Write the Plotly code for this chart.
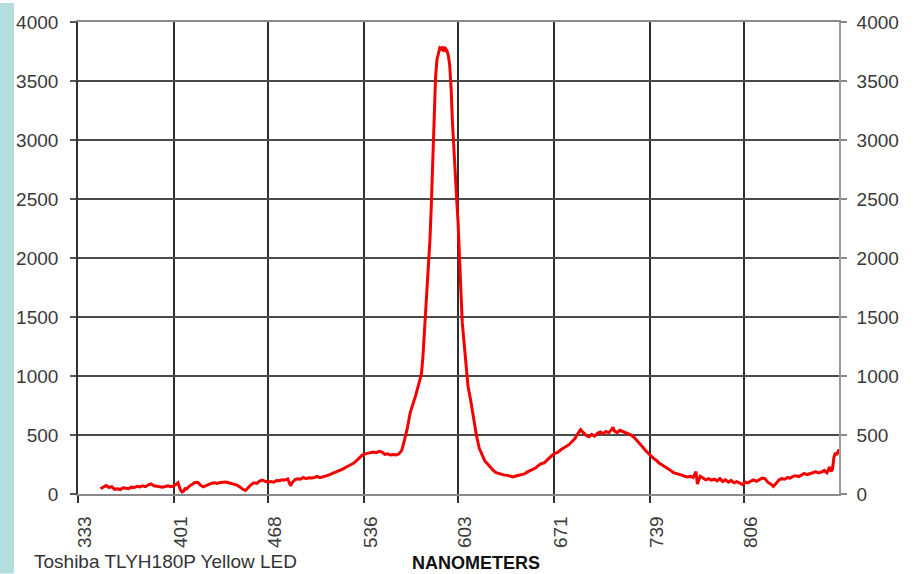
import plotly.graph_objects as go

# Emission spectrum of a Toshiba TLYH180P yellow LED
wavelength_nm = [
    349, 351, 353, 355, 357, 359, 361, 363, 365, 367, 369, 371, 373, 375, 377, 379,
    381, 383, 385, 387, 389, 391, 393, 395, 397, 399, 401, 403, 404, 405, 406, 407,
    408, 409, 410, 412, 414, 416, 418, 420, 422, 424, 426, 428, 430, 432, 434, 436,
    438, 440, 442, 444, 446, 448, 450, 452, 454, 456, 458, 460, 462, 464, 466, 468,
    470, 472, 474, 476, 478, 480, 482, 484, 485, 487, 489, 491, 493, 495, 497, 499,
    501, 503, 505, 507, 509, 511, 513, 515, 517, 519, 521, 523, 525, 527, 529, 531,
    533, 535, 537, 539, 541, 543, 545, 547, 549, 551, 553, 555, 557, 559, 561, 563,
    565, 567, 569, 571, 573, 575, 577, 578, 579, 580, 581, 582, 583, 584, 585, 586,
    587, 588, 589, 590, 591, 592, 593, 594, 595, 596, 597, 598, 599, 600, 601, 602,
    603, 604, 605, 606, 607, 608, 609, 610, 612, 614, 616, 618, 620, 622, 624, 626,
    628, 630, 632, 634, 636, 638, 640, 642, 644, 646, 648, 650, 652, 654, 656, 658,
    660, 662, 664, 666, 668, 670, 672, 674, 676, 678, 680, 682, 684, 686, 688, 690,
    692, 694, 696, 698, 700, 702, 704, 706, 708, 710, 712, 713, 714, 716, 718, 720,
    722, 724, 726, 728, 730, 732, 734, 736, 738, 740, 742, 744, 746, 748, 750, 752,
    754, 756, 758, 760, 762, 764, 766, 768, 770, 772, 773, 775, 777, 779, 781, 783,
    785, 787, 789, 791, 793, 795, 797, 799, 801, 803, 805, 807, 809, 811, 813, 815,
    817, 819, 821, 823, 825, 827, 829, 831, 833, 835, 837, 839, 841, 843, 845, 847,
    849, 851, 853, 855, 857, 859, 861, 863, 865, 867, 868, 869, 870, 871, 872, 873,
    873.6,
]

intensity = [
    45, 60, 72, 55, 62, 40, 45, 38, 52, 48, 45, 58, 55, 65, 60, 70,
    62, 78, 85, 70, 66, 60, 58, 64, 70, 62, 68, 85, 95, 60, 30, 18,
    25, 45, 42, 65, 85, 98, 100, 75, 60, 72, 80, 92, 95, 90, 98, 100,
    102, 95, 88, 80, 75, 60, 40, 30, 55, 80, 95, 90, 110, 118, 108, 100,
    105, 100, 115, 112, 120, 118, 128, 70, 95, 120, 128, 125, 140, 130, 138, 135,
    140, 150, 138, 145, 148, 160, 170, 180, 188, 200, 210, 225, 240, 250, 262, 285,
    310, 330, 340, 345, 352, 355, 350, 362, 355, 335, 340, 330, 335, 330, 340, 370,
    460, 560, 690, 760, 840, 930, 1020, 1160, 1360, 1500, 1680, 1900, 2150, 2450, 2800, 3200,
    3530, 3680, 3740, 3780, 3770, 3790, 3750, 3775, 3760, 3720, 3640, 3450, 3150, 2900, 2720, 2500,
    2300, 1950, 1720, 1450, 1300, 1150, 1030, 920, 790, 640, 500, 390, 330, 280, 255, 225,
    200, 180, 172, 165, 160, 158, 150, 145, 152, 158, 165, 170, 185, 195, 205, 220,
    240, 258, 262, 285, 310, 330, 345, 355, 375, 390, 405, 420, 445, 470, 510, 545,
    520, 495, 485, 505, 490, 515, 525, 510, 530, 520, 545, 565, 535, 520, 540, 530,
    525, 515, 500, 480, 455, 430, 400, 370, 345, 320, 300, 285, 260, 245, 230, 220,
    200, 180, 175, 170, 160, 150, 145, 150, 140, 190, 85, 150, 135, 120, 130, 118,
    125, 110, 130, 105, 120, 100, 115, 95, 105, 90, 80, 100, 95, 110, 120, 108,
    125, 135, 130, 100, 85, 65, 90, 120, 130, 125, 140, 135, 150, 155, 148, 160,
    175, 165, 170, 180, 190, 178, 185, 200, 180, 230, 190, 210, 310, 350, 330, 370,
    380,
]

x_tick_vals = [333, 401, 468, 536, 603, 671, 739, 806]
x_tick_text = ["333", "401", "468", "536", "603", "671", "739", "806"]
y_tick_vals = [0, 500, 1000, 1500, 2000, 2500, 3000, 3500, 4000]

TICK_FONT = dict(family="Liberation Sans, Arial, sans-serif", size=19, color="#3a3a3a")

fig = go.Figure()
fig.add_trace(go.Scatter(
    x=wavelength_nm, y=intensity, mode="lines",
    line=dict(color="rgb(245,0,0)", width=3),
    hoverinfo="skip", showlegend=False,
))
# invisible copy that carries the right-hand intensity axis
fig.add_trace(go.Scatter(
    x=wavelength_nm, y=intensity, mode="lines", yaxis="y2",
    line=dict(color="rgba(0,0,0,0)", width=0),
    hoverinfo="skip", showlegend=False,
))

fig.update_layout(
    width=914, height=574,
    margin=dict(l=78, r=75, t=19, b=80),
    paper_bgcolor="white", plot_bgcolor="white",
    xaxis=dict(
        range=[333, 873.6], tickvals=x_tick_vals, ticktext=x_tick_text,
        tickangle=-90, tickfont=TICK_FONT,
        ticks="outside", ticklen=7, tickwidth=1.5, tickcolor="#333",
        showgrid=True, gridcolor="#2e2e2e", gridwidth=1.6,
        showline=True, linecolor="#8a8a8a", linewidth=1.6, mirror=True,
        zeroline=False, ticklabelstandoff=6, ticklabelshift=7,
    ),
    yaxis=dict(
        range=[0, 4000], tickvals=y_tick_vals, tickfont=TICK_FONT,
        ticks="outside", ticklen=6, tickwidth=1.5, tickcolor="#555",
        showgrid=True, gridcolor="#4a4a4a", gridwidth=1.6,
        showline=True, linecolor="#333", linewidth=1.6,
        zeroline=False, ticklabelstandoff=8,
    ),
    yaxis2=dict(
        range=[0, 4000], tickvals=y_tick_vals, tickfont=TICK_FONT,
        overlaying="y", side="right",
        ticks="outside", ticklen=6, tickwidth=1.5, tickcolor="#888",
        showgrid=False, showline=True, linecolor="#999", linewidth=1.6,
        zeroline=False, ticklabelstandoff=6,
    ),
    shapes=[
        dict(type="rect", xref="paper", yref="paper",
             x0=-78 / 761, x1=-64 / 761, y0=-80 / 475, y1=1 + 19 / 475,
             fillcolor="#b4dde0", line=dict(width=0), layer="below"),
    ],
    annotations=[
        dict(text="Toshiba TLYH180P Yellow LED", xref="paper", yref="paper",
             x=-46 / 761, y=-68 / 475, xanchor="left", yanchor="middle",
             showarrow=False,
             font=dict(family="Liberation Sans, Arial, sans-serif", size=19, color="#333")),
        dict(text="<b>NANOMETERS</b>", xref="paper", yref="paper",
             x=(476 - 78) / 761, y=-69 / 475, xanchor="center", yanchor="middle",
             showarrow=False,
             font=dict(family="Liberation Sans Narrow, Liberation Sans, Arial, sans-serif",
                       size=18, color="#111")),
    ],
)

fig.write_html("out.html")
